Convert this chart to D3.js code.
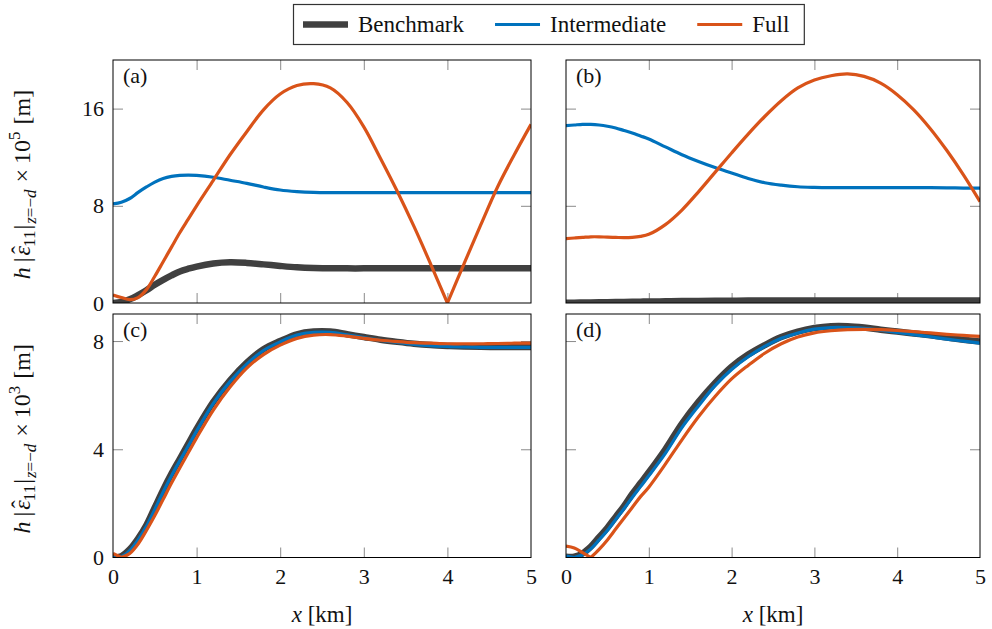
<!DOCTYPE html>
<html>
<head>
<meta charset="utf-8">
<script src="https://cdn.jsdelivr.net/npm/d3@7"></script>
<style>
body { margin: 0; background: #fff; }
text { font-family: "Liberation Serif", "Times New Roman", serif; fill: #111; }
</style>
</head>
<body>
<svg id="chart" width="992" height="629"></svg>
<script>
// x positions [km], shared by every series
var xs = [0, 0.1, 0.2, 0.3, 0.4, 0.5, 0.6, 0.7, 0.8, 0.9, 1.0, 1.2, 1.4, 1.6, 1.8, 2.0,
          2.2, 2.4, 2.6, 2.8, 3.0, 3.2, 3.4, 3.6, 3.8, 4.0, 4.2, 4.4, 4.6, 4.8, 5.0]

// panel (a)  (x 1e5)
var a_bench = [0, 0.08, 0.3, 0.65, 1.05, 1.5, 1.9, 2.27, 2.6, 2.82, 3.0, 3.25, 3.35, 3.3, 3.18, 3.05,
               2.94, 2.88, 2.86, 2.85, 2.85, 2.85, 2.85, 2.85, 2.85, 2.85, 2.85, 2.85, 2.85, 2.85, 2.85]
var a_inter = [8.15, 8.3, 8.6, 9.1, 9.55, 9.95, 10.25, 10.42, 10.5, 10.52, 10.5, 10.35, 10.1, 9.85, 9.55, 9.3,
               9.17, 9.1, 9.08, 9.08, 9.08, 9.08, 9.08, 9.08, 9.08, 9.08, 9.08, 9.08, 9.08, 9.08, 9.08]
var a_full  = [0.66, 0.45, 0.27, 0.45, 1.1, 2.2, 3.4, 4.6, 5.8, 6.9, 8.0, 10.1, 12.2, 14.1, 15.9, 17.2,
               17.9, 18.05, 17.7, 16.5, 14.5, 11.9, 9.2, 6.3, 3.2, 0, 3.25, 6.45, 9.55, 12.2, 14.7]

// panel (b)  (x 1e5)
var b_bench = [0.03, 0.03, 0.04, 0.05, 0.06, 0.07, 0.08, 0.09, 0.1, 0.11, 0.12, 0.14, 0.16, 0.17, 0.18, 0.19,
               0.2, 0.2, 0.2, 0.2, 0.2, 0.2, 0.2, 0.2, 0.2, 0.2, 0.2, 0.2, 0.2, 0.2, 0.2]
var b_inter = [14.6, 14.65, 14.7, 14.7, 14.65, 14.55, 14.4, 14.2, 14.0, 13.75, 13.5, 12.85, 12.2, 11.65, 11.15, 10.7,
               10.25, 9.9, 9.7, 9.57, 9.52, 9.5, 9.5, 9.5, 9.5, 9.5, 9.49, 9.49, 9.48, 9.46, 9.45]
var b_full  = [5.3, 5.35, 5.4, 5.45, 5.45, 5.42, 5.4, 5.38, 5.4, 5.48, 5.65, 6.45, 7.65, 9.15, 10.75, 12.35,
               13.9, 15.35, 16.65, 17.7, 18.35, 18.7, 18.85, 18.65, 18.1, 17.15, 15.9, 14.35, 12.55, 10.55, 8.35]

// panel (c)  (x 1e3)
var c_bench = [0, 0.05, 0.3, 0.7, 1.2, 1.85, 2.5, 3.1, 3.65, 4.2, 4.75, 5.75, 6.55, 7.2, 7.7, 8.0,
               8.25, 8.35, 8.35, 8.25, 8.15, 8.05, 7.97, 7.9, 7.85, 7.82, 7.8, 7.79, 7.78, 7.78, 7.78]
var c_inter = [0.02, 0.03, 0.25, 0.65, 1.15, 1.78, 2.42, 3.02, 3.58, 4.12, 4.67, 5.7, 6.5, 7.15, 7.65, 7.97,
               8.22, 8.32, 8.32, 8.23, 8.13, 8.03, 7.95, 7.88, 7.83, 7.8, 7.78, 7.77, 7.77, 7.77, 7.77]
var c_full  = [0.15, 0, 0.15, 0.5, 1.0, 1.55, 2.15, 2.75, 3.32, 3.87, 4.42, 5.45, 6.3, 7.0, 7.5, 7.85,
               8.1, 8.22, 8.24, 8.18, 8.1, 8.03, 7.98, 7.94, 7.92, 7.9, 7.9, 7.9, 7.91, 7.92, 7.92]

// panel (d)  (x 1e3)
var d_bench = [0.03, 0.03, 0.15, 0.4, 0.75, 1.1, 1.5, 1.9, 2.35, 2.75, 3.15, 4.0, 4.95, 5.75, 6.45, 7.05,
               7.5, 7.85, 8.15, 8.35, 8.48, 8.55, 8.55, 8.5, 8.42, 8.35, 8.28, 8.21, 8.13, 8.05, 7.98]
var d_inter = [0.05, 0, 0.1, 0.32, 0.65, 1.0, 1.4, 1.8, 2.22, 2.62, 3.02, 3.85, 4.8, 5.6, 6.35, 6.95,
               7.42, 7.8, 8.1, 8.3, 8.44, 8.5, 8.5, 8.47, 8.4, 8.32, 8.24, 8.16, 8.07, 8.0, 7.92]
var d_full  = [0.42, 0.35, 0.18, 0, 0.3, 0.65, 1.05, 1.45, 1.85, 2.25, 2.6, 3.45, 4.35, 5.2, 5.95, 6.6,
               7.1, 7.55, 7.9, 8.15, 8.3, 8.38, 8.42, 8.43, 8.42, 8.39, 8.35, 8.3, 8.25, 8.21, 8.17]

var SERIES = ['Benchmark', 'Intermediate', 'Full']
var x_ticks = [0, 1, 2, 3, 4, 5]
var y_ticks_top = [0, 8, 16]
var y_ticks_bot = [0, 4, 8]

var COLORS = ['#404040', '#0072BD', '#D95319'],
	WIDTHS = [6.5, 3.2, 3.2],
	TICK_COLOR = '#8a8a8a',
	SERIF = '"Liberation Serif", "Times New Roman", serif',
	FONT = 22

var COL_L = [113, 566], COL_R = [531, 980]
var ROW_T = [60, 314], ROW_B = [303, 557.5]

var panels = [
	{ name: '(a)', col: 0, row: 0, ymax: 20, yt: y_ticks_top, data: [a_bench, a_inter, a_full] },
	{ name: '(b)', col: 1, row: 0, ymax: 20, yt: y_ticks_top, data: [b_bench, b_inter, b_full] },
	{ name: '(c)', col: 0, row: 1, ymax: 9, yt: y_ticks_bot, data: [c_bench, c_inter, c_full] },
	{ name: '(d)', col: 1, row: 1, ymax: 9, yt: y_ticks_bot, data: [d_bench, d_inter, d_full] }
]

var svg = d3.select('#chart')
var defs = svg.append('defs')

// split a series at interior zeros so the |.| cusps stay sharp
function pieces(vals) {
	var out = [], cur = []
	vals.forEach(function(v, i) {
		cur.push([xs[i], v])
		if (v === 0 && i > 0 && i < vals.length - 1) { out.push(cur); cur = [[xs[i], v]] }
	})
	out.push(cur)
	return out
}

panels.forEach(function(p, k) {
	var L = COL_L[p.col], R = COL_R[p.col], T = ROW_T[p.row], B = ROW_B[p.row]
	var x = d3.scaleLinear().domain([0, 5]).range([L, R])
	var y = d3.scaleLinear().domain([0, p.ymax]).range([B, T])
	var g = svg.append('g').attr('class', 'panel')

	defs.append('clipPath').attr('id', 'clip' + k)
		.append('rect').attr('x', L).attr('y', T).attr('width', R - L).attr('height', B - T)

	// inward ticks on all four sides
	var inner_x = x_ticks.filter(function(d) { return d > 0 && d < 5 })
	var inner_y = p.yt.filter(function(d) { return d > 0 && d < p.ymax })
	var tk = [
		[d3.axisBottom(x).tickValues(inner_x), 'translate(0,' + B + ')'],
		[d3.axisTop(x).tickValues(inner_x), 'translate(0,' + T + ')'],
		[d3.axisLeft(y).tickValues(inner_y), 'translate(' + L + ',0)'],
		[d3.axisRight(y).tickValues(inner_y), 'translate(' + R + ',0)']
	]
	tk.forEach(function(a) {
		var ax = g.append('g').attr('transform', a[1])
			.call(a[0].tickSize(-10).tickFormat(''))
		ax.select('.domain').remove()
		ax.selectAll('line').attr('stroke', TICK_COLOR).attr('stroke-width', 1)
	})

	var line = d3.line()
		.x(function(d) { return x(d[0]) })
		.y(function(d) { return y(d[1]) })
		.curve(d3.curveCatmullRom.alpha(0.5))

	var lines = g.append('g').attr('clip-path', 'url(#clip' + k + ')')
	p.data.forEach(function(vals, s) {
		pieces(vals).forEach(function(pc) {
			lines.append('path')
				.attr('d', line(pc))
				.attr('fill', 'none')
				.attr('stroke', COLORS[s])
				.attr('stroke-width', WIDTHS[s])
				.attr('stroke-linejoin', 'round')
		})
	})

	g.append('rect')
		.attr('x', L).attr('y', T).attr('width', R - L).attr('height', B - T)
		.attr('fill', 'none').attr('stroke', '#000').attr('stroke-width', 1)

	g.append('text')
		.attr('x', L + 10).attr('y', T + 23)
		.attr('font-size', FONT)
		.text(p.name)

	if (p.col == 0) {
		var ay = g.append('g').attr('transform', 'translate(' + L + ',0)')
			.call(d3.axisLeft(y).tickValues(p.yt).tickFormat(d3.format('d')).tickSize(0).tickPadding(9))
			.attr('font-family', SERIF).attr('font-size', FONT)
		ay.select('.domain').remove()
		ay.selectAll('text').attr('fill', '#111').style('font-family', SERIF)
	}
	if (p.row == 1) {
		var axb = g.append('g').attr('transform', 'translate(0,' + B + ')')
			.call(d3.axisBottom(x).tickValues(x_ticks).tickFormat(d3.format('d')).tickSize(0).tickPadding(11))
			.attr('font-family', SERIF).attr('font-size', FONT)
		axb.select('.domain').remove()
		axb.selectAll('text').attr('fill', '#111').style('font-family', SERIF)

		var xl = g.append('text')
			.attr('x', (L + R) / 2).attr('y', 622)
			.attr('text-anchor', 'middle')
			.attr('font-size', 23)
		xl.append('tspan').attr('font-style', 'italic').text('x')
		xl.append('tspan').text(' [km]')
	}
})

// y labels
function yLabel(cy, expo) {
	var t = svg.append('text')
		.attr('transform', 'translate(30,' + cy + ') rotate(-90)')
		.attr('text-anchor', 'middle')
		.attr('font-size', 24)
	t.append('tspan').attr('font-style', 'italic').text('h')
	t.append('tspan').attr('dx', 5).text('|')
	t.append('tspan').attr('dx', 2).attr('font-style', 'italic').text('\u03b5')
	t.append('tspan').attr('dx', -8).attr('dy', -2).text('\u02c6')
	t.append('tspan').attr('font-size', 17).attr('dx', -1).attr('dy', 7).text('11')
	t.append('tspan').attr('dx', 1).attr('dy', -5).text('|')
	var sub = t.append('tspan').attr('font-size', 17).attr('dx', 1).attr('dy', 6)
	sub.append('tspan').attr('font-style', 'italic').text('z')
	sub.append('tspan').text('=\u2212')
	sub.append('tspan').attr('font-style', 'italic').text('d')
	t.append('tspan').attr('dx', 7).attr('dy', -6).text('\u00d7')
	t.append('tspan').attr('dx', 5).text('10')
	t.append('tspan').attr('font-size', 17).attr('dy', -10).text(expo)
	t.append('tspan').attr('dx', 7).attr('dy', 10).text('[m]')
}
yLabel((ROW_T[0] + ROW_B[0]) / 2 + 3, '5')
yLabel((ROW_T[1] + ROW_B[1]) / 2 + 3, '3')

// legend
var leg = svg.append('g')
var lx = 303, ly = 24.5
SERIES.forEach(function(name, s) {
	leg.append('line')
		.attr('x1', lx).attr('x2', lx + 45).attr('y1', ly).attr('y2', ly)
		.attr('stroke', COLORS[s]).attr('stroke-width', s == 0 ? 6.5 : 3.2)
	var t = leg.append('text')
		.attr('x', lx + 55).attr('y', ly).attr('dy', '0.33em')
		.attr('font-size', 23)
		.text(name)
	lx = lx + 55 + t.node().getComputedTextLength() + 31
})
leg.insert('rect', ':first-child')
	.attr('x', 293.5).attr('y', 4.5)
	.attr('width', lx - 31 + 15 - 293.5).attr('height', 40)
	.attr('fill', '#fff').attr('stroke', '#333').attr('stroke-width', 1.2)
</script>
</body>
</html>
